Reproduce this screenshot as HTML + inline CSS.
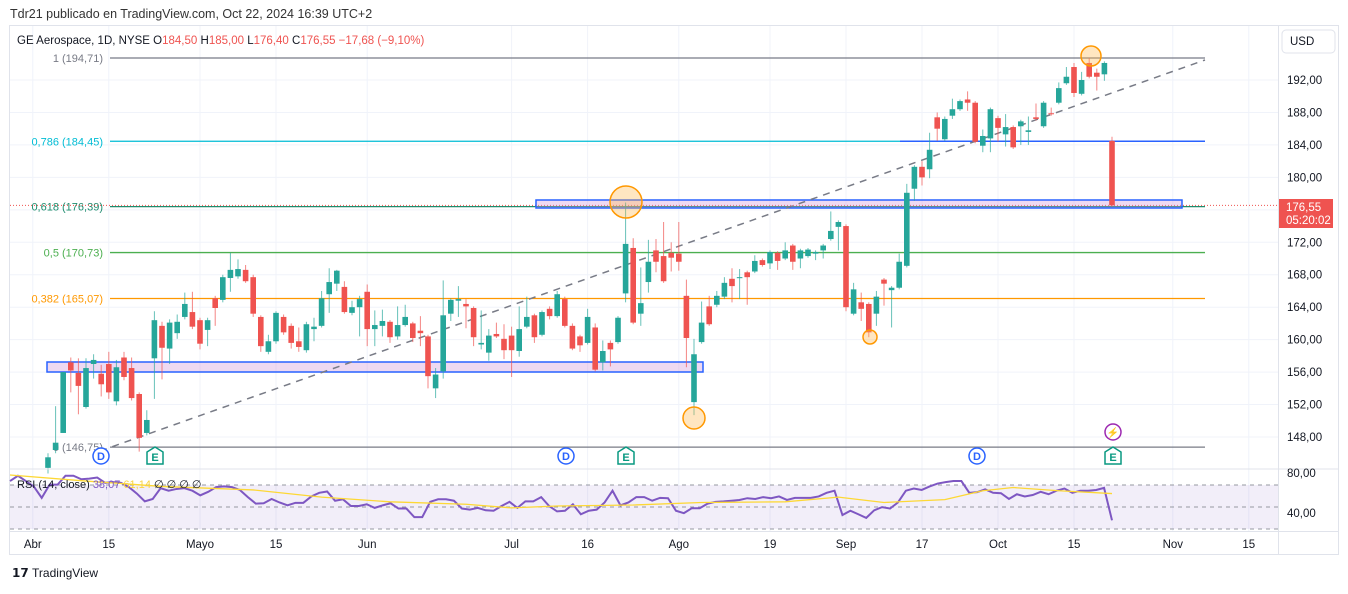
<!DOCTYPE html>
<html><head><meta charset="utf-8"><style>
body{margin:0;background:#fff;width:1348px;height:589px;overflow:hidden;font-family:"Liberation Sans",sans-serif}
svg text{font-family:"Liberation Sans",sans-serif}
</style></head><body>
<svg id="chart" width="1348" height="589" viewBox="0 0 1348 589" xmlns="http://www.w3.org/2000/svg">
<text x="10" y="18" font-size="12.5" fill="#333">Tdr21 publicado en TradingView.com, Oct 22, 2024 16:39 UTC+2</text>
<rect x="9.5" y="25.5" width="1329" height="529" fill="none" stroke="#e0e3eb"/>
<g id="grid"></g>
<g id="fib"></g>
<g id="shapes"></g>
<g id="candles"></g>
<g id="marks"></g>
<g id="rsi"></g>
<g id="axes"></g>
<text x="17" y="44" font-size="11.5" fill="#131722">GE Aerospace, 1D, NYSE <tspan fill="#131722">O</tspan><tspan fill="#ef5350">184,50</tspan> <tspan fill="#131722">H</tspan><tspan fill="#ef5350">185,00</tspan> <tspan fill="#131722">L</tspan><tspan fill="#ef5350">176,40</tspan> <tspan fill="#131722">C</tspan><tspan fill="#ef5350">176,55 −17,68 (−9,10%)</tspan></text>
<text x="12" y="577" font-size="12" font-weight="bold" fill="#131722">𝟭𝟳 <tspan font-weight="normal">TradingView</tspan></text>
</svg>
<script>
const opens=[144.2,146.4,148.5,157.2,155.9,151.7,157,155.8,157,152.4,157.8,156.5,153.3,148.5,157.7,161.7,158.9,160.8,162.8,163.4,162.4,161.2,165.1,164.9,167.6,167.8,168.6,167.7,162.8,158.5,159.8,162.8,161.7,159.8,158.7,161.3,161.7,165.6,166.9,166.5,163.3,164,165.9,161.3,161.7,162.2,160.4,161.8,162,161.1,160.4,154,156.1,163.2,164.8,164.4,163.9,159.4,158.4,160.7,160.1,160.5,158.6,161.6,163,160.6,163.8,162.9,165,161.7,160.4,159.6,161.5,157.2,159.6,159.7,165.7,171.3,163.2,167.1,171,170.3,170.7,170.6,165.4,152.3,159.7,164.1,164.3,165.3,167.5,167.6,168.3,168.4,169.8,169.4,170.7,170,171.6,170,170.3,170.6,171,172.4,173.9,174,163.2,164.6,164.4,163.2,167.4,166.1,166.4,169.1,178.6,181.3,181,187.4,184.7,187.6,188.4,189.6,189.2,183.9,184.8,187.3,185.3,186.2,186.3,185.6,187.4,186.3,187.9,189.2,191.6,193.6,190.3,194.1,192.9,192.7,184.5];
const highs=[146,151.8,156,157.8,157.7,157.7,158.2,156.9,158.5,157.5,158.5,157.8,153.5,151.3,163.5,162.2,162.5,163.1,165.8,165.9,162.7,162.7,165.4,168,170.7,169.9,169.2,168,163,160.6,163.5,163.1,162,161.5,162.2,162.7,166,168.8,168.6,167.2,164.8,165.4,166.8,163.6,163.7,162.4,164.1,164.3,162.2,162.9,160.6,156.5,167.3,165.1,166.6,165,164.1,163.6,161.3,162.1,161.9,161.6,164.1,165.3,163.2,163.6,164.1,166,165.3,162,160.6,163.8,162,159.9,159.9,162.9,176.9,172.5,168.9,172.3,172.4,174.5,172,174.5,167.4,160.1,164.7,165.4,166,167.7,168.8,168.7,168.5,170.4,170,171,170.9,172,171.8,171.2,171.3,171,171.8,175.8,174.7,174.2,167,165.8,164.6,166,167.6,166.6,170.6,179.2,181.5,182,185.5,188,187.5,189.7,189.6,190.6,189.4,185.9,188.6,187.6,187.8,186.4,187.1,187.5,189.1,189.4,188.6,191.7,193.6,194.1,193,194.7,193.4,194.3,185];
const lows=[143.5,146,148.5,153.5,150.8,151.5,155.2,153,152.7,151.9,155,152.5,146.2,148.2,152.7,155.1,157,160.1,162.5,161.3,158.8,159.2,161.7,164.6,165.9,167.5,167,162.8,158.5,158.2,159.5,160.6,158.9,158.5,158.4,159.8,161.5,163.3,166,163.2,163,160.4,159.2,159.2,160.4,159.6,160,161.6,159.7,159.2,154,152.8,155.2,162.3,162.8,161.4,159.2,158.8,157.4,160.2,157.6,155.4,157.9,161.4,159.6,160.4,162.5,162.7,161.5,158.7,158.5,159.4,156.1,156.2,156.7,159.5,164.6,161.9,161.7,165.8,168.3,167,168.4,168.5,156.6,150.7,159.5,161.7,164,165,164.6,165,164.3,168.2,169,168.7,168.6,169.8,168.6,168.8,170.1,169.8,170,172.2,171,163.5,163,162.3,160.3,161.7,164.2,161.5,166.2,168.9,177.1,179,179.9,184.5,184.5,187.2,188.2,188.2,184.2,183.1,183.1,184.4,183.8,183.5,184,184,187,186.1,187.6,189,191.4,189.9,190.1,192.2,190.7,191.9,176.4];
const closes=[145.5,147.3,156,156.2,154.3,156.5,157.5,154.5,153.5,156.6,155.4,152.8,147.9,150.1,162.4,159,162.1,162.2,164.4,161.6,159.5,162.4,163.9,167.7,168.6,168.7,167.2,163.2,159.2,159.8,163.3,160.9,159.6,159.1,161.9,161.6,165.1,167.1,168.5,163.4,164,165,161.3,161.8,162.3,160.3,161.8,162.8,160.2,160.8,155.5,155.7,163,164.9,165,164.1,160.3,159.6,160.5,160.4,158.7,158.7,161.3,162.8,160.3,163.4,162.9,165.6,161.7,158.9,159.3,162.8,156.3,158.6,158.8,162.7,171.8,162.1,164.5,169.6,169.6,167.2,170.1,169.6,160.2,158.2,162.1,161.9,165.4,167,166.6,167.7,167.7,169.7,169.2,170.8,169.7,171,169.6,171,171.1,170.8,171.6,173.4,174.5,164,166.2,163.8,160.9,165.3,166.9,166.4,169.6,178.1,181.3,180,183.4,186,187.2,188.4,189.4,189.2,184.4,185.1,188.4,186.1,186.2,183.7,186.9,185.8,187.2,189.2,187.8,191,192.4,190.4,192,192.4,192.4,194.1,176.55];
const rsiVals=[73.6,78.4,73.6,68.7,58.3,70.3,70.3,78.4,78.4,75.2,75.8,76.8,72,72.6,72,68.1,62.2,55.1,57.3,67.1,64.8,66.4,67.1,64.8,60.6,63.8,68.1,68.7,68.1,65.5,59,53.1,53.4,57.3,54.1,51.5,53.8,53.8,59.6,62.9,64.1,55.7,57,50.9,50.9,52.5,49.2,51.5,53.4,48.6,48.6,40.8,40.8,54.7,57,57,55.7,48.6,47.6,49.2,47,46.6,50.9,54.7,49.2,55.1,55.1,59,
50.9,46,46.6,52.5,43.4,46.6,47.6,54.1,64.8,51.5,54.1,59,59,55.7,58.3,58,46.6,44.4,48.9,48.9,53.1,54.7,55.1,55.7,56.4,58,57.3,59,58,59.6,56.4,58.3,58.3,58.3,59.6,62.9,64.8,42.7,46.6,43.4,40.1,47,49.9,48.6,54.1,64.8,66.8,65.5,68.7,71.3,72.6,73.6,73.6,62.9,63.5,66.1,62.9,62.5,57.3,61.6,59.6,60.9,63.8,61.6,64.8,66.8,62.9,64.8,64.8,65.5,67.4,37.9];
const maDays=[-5,5,15,27,36,45,55,61,67,77,86,97,104,110,118,123,127,133,140];
const maVals=[79.1,73.6,68.7,65.5,59,54.7,52.5,49.2,50.9,51.8,54.1,54.7,59,54.1,56.7,64.8,67.7,64.8,62.2];
const priceTicks=[192,188,184,180,172,168,164,160,156,152,148];
const priceTickLabels=["192,00","188,00","184,00","180,00","172,00","168,00","164,00","160,00","156,00","152,00","148,00"];
const timeLabels=["Abr","15","Mayo","15","Jun","Jul","16","Ago","19","Sep","17","Oct","15","Nov","15"];
const timeDays=[-2,8,20,30,42,61,71,83,95,105,115,125,135,148,158];
const fibLevels=[194.71,184.45,176.39,170.73,165.07,146.75];
const fibLabels=["1 (194,71)","0,786 (184,45)","0,618 (176,39)","0,5 (170,73)","0,382 (165,07)","0 (146,75)"];

const NS="http://www.w3.org/2000/svg";
function mk(tag,attrs,parent){const e=document.createElementNS(NS,tag);for(const k in attrs)e.setAttribute(k,attrs[k]);parent.appendChild(e);return e;}
function y(p){return 80+(192-p)*8.114;}
function x(i){return 48+i*7.6;}
function ry(v){return 485+(70-v)*1.1;}
const G=id=>document.getElementById(id);

// grid
const grid=G('grid');
priceTicks.concat([176]).forEach(p=>{const l=mk('line',{x1:10,x2:1278,y1:y(p),y2:y(p),stroke:'#f0f3fa'},grid);

});
timeDays.forEach(d=>{const l=mk('line',{x1:x(d),x2:x(d),y1:26,y2:531,stroke:'#f0f3fa'},grid);

});

// fib
const fib=G('fib');
const fibColors=['#787b86','#00bcd4','#1e8c6e','#4caf50','#ff9800','#787b86'];
fibLevels.forEach((p,i)=>{
 const l=mk('line',{x1:110,x2:1205,y1:y(p),y2:y(p),stroke:fibColors[i],'stroke-width':1.3},fib);
 
 
 const t=mk('text',{x:103,y:y(p)+4,'font-size':11,fill:fibColors[i],'text-anchor':'end'},fib);
 t.textContent=fibLabels[i];
 
 
});
const bl=mk('line',{x1:900,x2:1205,y1:y(184.45),y2:y(184.45),stroke:'#2962ff','stroke-width':1.5},fib);



// shapes
const sh=G('shapes');
const pl=mk('line',{x1:10,x2:1280,y1:y(176.55),y2:y(176.55),stroke:'#ef5350','stroke-dasharray':'1 2'},sh);


[[536,200,1182,208],[47,362,703,372]].forEach(r=>{const e=mk('rect',{x:r[0],y:r[1],width:r[2]-r[0],height:r[3]-r[1],fill:'rgba(206,147,216,0.35)',stroke:'#2962ff','stroke-width':1.5},sh);

});
const tl=mk('line',{x1:100,y1:451,x2:1205,y2:60,stroke:'#787b86','stroke-width':1.5,'stroke-dasharray':'7 6'},sh);



// candles
const cg=G('candles');
opens.forEach((o,i)=>{
 const c=closes[i],up=c>=o,col=up?'#26a69a':'#ef5350',cx=x(i);
 const w=mk('line',{x1:cx,x2:cx,y1:y(highs[i]),y2:y(lows[i]),stroke:col,'stroke-opacity':0.7},cg);
 
 
 const top=y(Math.max(o,c)),h=Math.max(1,y(Math.min(o,c))-top);
 const b=mk('rect',{x:cx-2.8,y:top,width:5.6,height:h,fill:col},cg);
 
 
});

// annotation marks
const mg=G('marks');
[[626,202,16],[694,418,11],[870,337,7],[1091,56,10]].forEach(c=>{const e=mk('circle',{cx:c[0],cy:c[1],r:c[2],fill:'rgba(255,183,77,0.35)',stroke:'#ff9800','stroke-width':1.5},mg);

});
[101,566,977].forEach(cx=>{const e=mk('circle',{cx:cx,cy:456,r:8,fill:'#fff',stroke:'#2962ff','stroke-width':1.5},mg);


const t=mk('text',{x:cx,y:460,'font-size':11,fill:'#2962ff','text-anchor':'middle','font-weight':'bold'},mg);t.textContent='D';});
[155,626,1113].forEach(cx=>{const e=mk('path',{d:`M${cx} 447 L${cx+8} 452 L${cx+8} 464 L${cx-8} 464 L${cx-8} 452 Z`,fill:'#fff',stroke:'#089981','stroke-width':1.5},mg);


const t=mk('text',{x:cx,y:461,'font-size':11,fill:'#089981','text-anchor':'middle','font-weight':'bold'},mg);t.textContent='E';});
const lz=mk('circle',{cx:1113,cy:432,r:8,fill:'#fff',stroke:'#9c27b0','stroke-width':1.5},mg);


const lzt=mk('text',{x:1113,y:436,'font-size':10,fill:'#9c27b0','text-anchor':'middle'},mg);lzt.textContent='⚡';

// RSI pane
const rg=G('rsi');
mk('line',{x1:10,x2:1338,y1:469,y2:469,stroke:'#e0e3eb'},rg);
const band=mk('rect',{x:10,y:ry(70),width:1268,height:ry(30)-ry(70),fill:'rgba(126,87,194,0.1)'},rg);


[70,50,30].forEach(v=>{mk('line',{x1:10,x2:1278,y1:ry(v),y2:ry(v),stroke:'#9598a1','stroke-dasharray':'4 4'},rg);});
const n=rsiVals.length;
const rx=i=>x(-5+i*145/(n-1));
const rp=mk('polyline',{points:rsiVals.map((v,i)=>rx(i)+','+ry(v)).join(' '),fill:'none',stroke:'#7e57c2','stroke-width':2},rg);


const mp=mk('polyline',{points:maVals.map((v,i)=>x(maDays[i])+','+ry(v)).join(' '),fill:'none',stroke:'#fdd835','stroke-width':1.3,'stroke-linejoin':'round'},rg);


const rl=mk('text',{x:17,y:488,'font-size':11,fill:'#131722'},rg);


rl.innerHTML='RSI (14, close) <tspan fill="#7e57c2">38,07</tspan> <tspan fill="#f9d342">61,14</tspan> ∅ ∅ ∅ ∅';

// axes
const ag=G('axes');
mk('line',{x1:1278.5,x2:1278.5,y1:26,y2:554,stroke:'#e0e3eb'},ag);
mk('line',{x1:10,x2:1338,y1:531.5,y2:531.5,stroke:'#e0e3eb'},ag);
priceTicks.forEach((p,i)=>{const t=mk('text',{x:1287,y:y(p)+4,'font-size':11.5,fill:'#131722'},ag);t.textContent=priceTickLabels[i];

});
[[80,'80,00'],[40,'40,00']].forEach(a=>{const t=mk('text',{x:1287,y:(a[0]==80?477:517),'font-size':11.5,fill:'#131722'},ag);t.textContent=a[1];

});
timeLabels.forEach((s,i)=>{const t=mk('text',{x:x(timeDays[i]),y:548,'font-size':11.5,fill:'#131722','text-anchor':'middle'},ag);t.textContent=s;

});
const ub=mk('rect',{x:1282,y:30,width:53,height:23,rx:4,fill:'#fff',stroke:'#e0e3eb'},ag);


const ut=mk('text',{x:1290,y:45,'font-size':11.5,fill:'#131722'},ag);ut.textContent='USD';
const pb=mk('rect',{x:1279,y:199,width:54,height:29,fill:'#ef5350'},ag);


const pt=mk('text',{x:1286,y:211,'font-size':11.5,fill:'#fff'},ag);pt.textContent='176,55';
const ct=mk('text',{x:1286,y:224,'font-size':11.5,fill:'#fff'},ag);ct.textContent='05:20:02';
</script>
</body></html>
